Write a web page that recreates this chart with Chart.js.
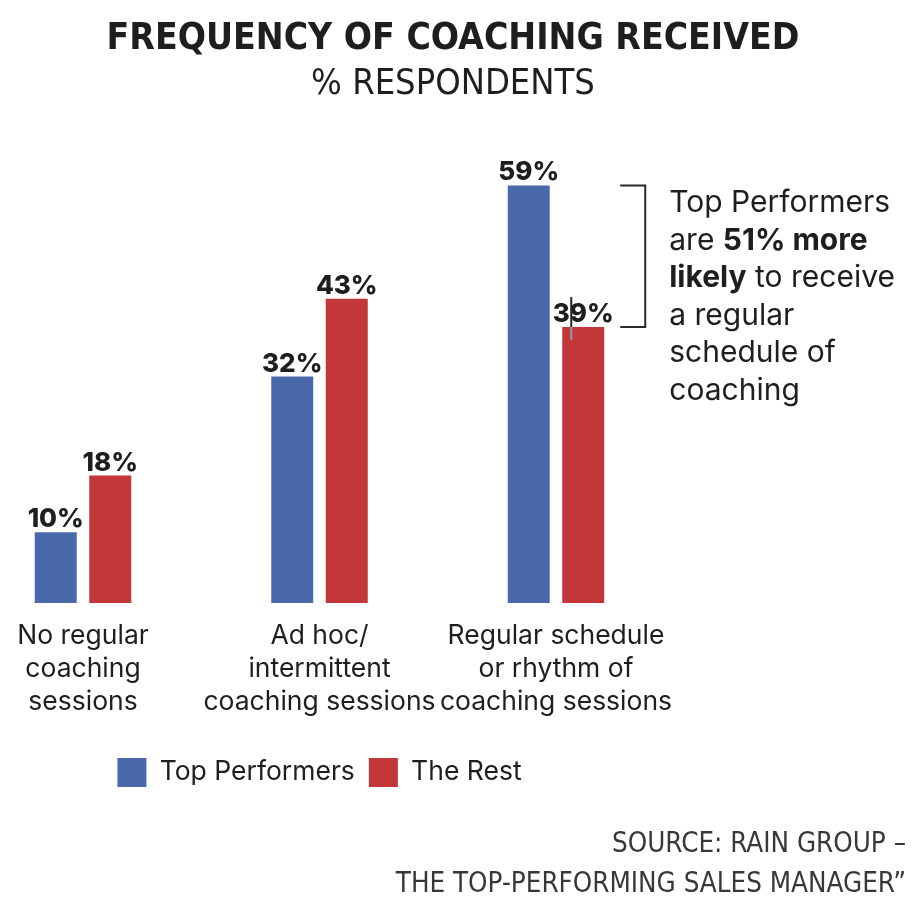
<!DOCTYPE html>
<html>
<head>
<meta charset="utf-8">
<script src="https://cdn.jsdelivr.net/npm/chart.js@4/dist/chart.umd.min.js"></script>
<style>
  html, body { margin: 0; padding: 0; background: #ffffff; }
  #wrap { width: 922px; height: 922px; position: relative; }
</style>
</head>
<body>
<div id="wrap"><canvas id="c" width="922" height="922"></canvas></div>
<script>
// ---- data ----
const chartTitle = "FREQUENCY OF COACHING RECEIVED";
const chartSubtitle = "% RESPONDENTS";
const categories = [
  ["No regular", "coaching", "sessions"],
  ["Ad hoc/", "intermittent", "coaching sessions"],
  ["Regular schedule", "or rhythm of", "coaching sessions"]
];
const seriesNames = ["Top Performers", "The Rest"];
const topPerformers = [10, 32, 59];
const theRest = [18, 43, 39];
const calloutLines = [
  [["Top Performers", false]],
  [["are ", false], ["51% more", true]],
  [["likely", true], [" to receive", false]],
  [["a regular", false]],
  [["schedule of", false]],
  [["coaching", false]]
];
const sourceLines = ["SOURCE: RAIN GROUP \u2013", "THE TOP-PERFORMING SALES MANAGER\u201D"];

const BLUE = "#4a69ab";
const RED = "#c3363a";
const INK = "#1e1e1e";
const SANS = "Inter, 'Noto Sans', sans-serif";
const NARROW = "'Liberation Sans Narrow', 'DejaVu Sans Condensed', sans-serif";

const overlay = {
  id: "overlay",
  afterDatasetsDraw(chart) {
    const ctx = chart.ctx;
    const y = chart.scales.y;
    ctx.save();
    // value labels
    ctx.fillStyle = INK;
    ctx.font = "800 26px " + SANS;
    ctx.textAlign = "center";
    ctx.textBaseline = "alphabetic";
    chart.data.datasets.forEach((ds, di) => {
      const meta = chart.getDatasetMeta(di);
      meta.data.forEach((el, i) => {
        ctx.fillText(ds.data[i] + "%", el.x, el.y - 5);
      });
    });
    // bracket on last group
    const last = categories.length - 1;
    const redEl = chart.getDatasetMeta(1).data[last];
    const yTop = y.getPixelForValue(topPerformers[last]);
    const yBot = y.getPixelForValue(theRest[last]);
    const bx0 = redEl.x + redEl.width / 2 + 16;
    const bx1 = bx0 + 25;
    ctx.strokeStyle = "#2a2a2a";
    ctx.lineWidth = 2;
    ctx.beginPath();
    ctx.moveTo(bx0, yTop);
    ctx.lineTo(bx1, yTop);
    ctx.lineTo(bx1, yBot);
    ctx.lineTo(bx0, yBot);
    ctx.stroke();
    // small tick mark crossing the 39% label
    const tx = redEl.x - 12;
    ctx.lineWidth = 2;
    ctx.strokeStyle = "#222";
    ctx.beginPath(); ctx.moveTo(tx, redEl.y - 30); ctx.lineTo(tx, redEl.y); ctx.stroke();
    ctx.strokeStyle = "#8b9bab";
    ctx.beginPath(); ctx.moveTo(tx, redEl.y); ctx.lineTo(tx, redEl.y + 13); ctx.stroke();
    // callout text
    const cx = bx1 + 24;
    ctx.textAlign = "left";
    ctx.textBaseline = "middle";
    ctx.fillStyle = INK;
    calloutLines.forEach((segs, li) => {
      let x = cx;
      const ly = yTop + 18 + li * 37.5;
      segs.forEach(([t, b]) => {
        ctx.font = (b ? "bold " : "") + "30px " + SANS;
        ctx.fillText(t, x, ly);
        x += ctx.measureText(t).width;
      });
    });
    // source
    ctx.font = "27.5px " + NARROW;
    ctx.fillStyle = "#383838";
    ctx.textAlign = "right";
    ctx.fillText(sourceLines[0], 906, 845);
    ctx.fillText(sourceLines[1], 906, 885);
    ctx.restore();
  }
};

new Chart(document.getElementById("c"), {
  type: "bar",
  data: {
    labels: categories,
    datasets: [
      { label: seriesNames[0], data: topPerformers, backgroundColor: BLUE, clip: false },
      { label: seriesNames[1], data: theRest, backgroundColor: RED, clip: false }
    ]
  },
  options: {
    responsive: false,
    animation: false,
    devicePixelRatio: 1,
    categoryPercentage: 0.461,
    barPercentage: 0.77,
    layout: { padding: { left: 0, right: 16, top: 0, bottom: 125 } },
    scales: {
      x: {
        offset: false,
        grid: { display: false },
        border: { display: false },
        ticks: {
          color: INK,
          font: { family: SANS, size: 26.5, lineHeight: 1.245 },
          padding: 9,
          maxRotation: 0,
          autoSkip: false
        },
        afterFit: (s) => { s.height += 16; }
      },
      y: {
        min: 0,
        max: 64,
        grid: { display: false },
        border: { display: false },
        ticks: { display: false },
        afterFit: (s) => { s.width = 83; }
      },
      yRight: {
        position: "right",
        grid: { display: false },
        border: { display: false },
        ticks: { display: false },
        afterFit: (s) => { s.width = 350; }
      }
    },
    plugins: {
      tooltip: { enabled: false },
      title: {
        display: true,
        text: chartTitle,
        color: INK,
        font: { family: NARROW, size: 37, weight: "bold", lineHeight: 1.2 },
        padding: { top: 17, bottom: 0 }
      },
      subtitle: {
        display: true,
        text: chartSubtitle,
        color: INK,
        font: { family: NARROW, size: 36, weight: "normal", lineHeight: 1.2 },
        padding: { top: 2, bottom: 43.4 }
      },
      legend: {
        position: "bottom",
        fullSize: false,
        labels: {
          color: INK,
          boxWidth: 29,
          boxHeight: 29,
          padding: 14,
          font: { family: SANS, size: 26.5 }
        }
      }
    }
  },
  plugins: [overlay]
});
</script>
</body>
</html>
